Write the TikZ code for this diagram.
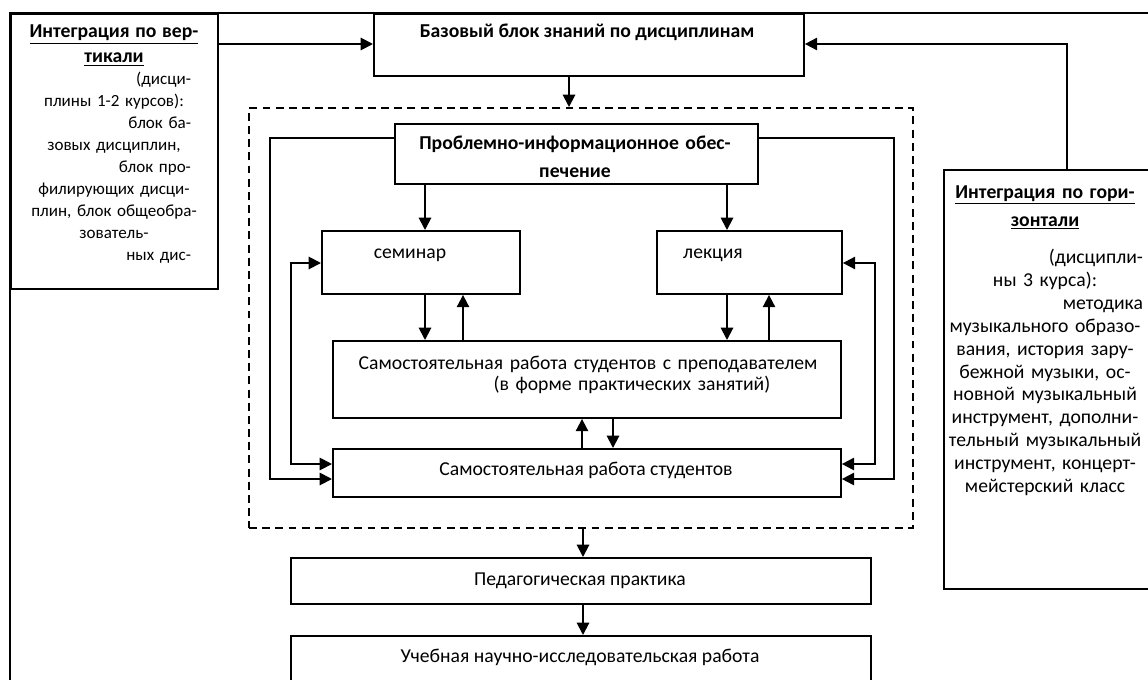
\documentclass[tikz,border=0pt]{standalone}
\usepackage{fontspec}
\setmainfont{Carlito}
\usetikzlibrary{arrows.meta, calc}
\newcommand{\rline}[2][0pt]{\hspace*{\fill}#2\hspace*{#1}\mbox{}}

\begin{document}
\begin{tikzpicture}[x=0.02cm, y=-0.02cm, >={Triangle[length=7pt, width=7pt]},
  every node/.style={font=\fontsize{11.2}{12.8}\selectfont},
  box/.style={draw, line width=1.1pt, inner sep=0pt, anchor=north west},
  lbl/.style={inner sep=0pt, align=center, anchor=base},
  conn/.style={line width=1.1pt}]
  \useasboundingbox (0,0) rectangle (1148,679);
  \clip (0,0) rectangle (1148,679);
  \node[box, minimum width=4.14cm, minimum height=5.5cm] (vert) at (10,13) {};
  \node[box, minimum width=8.6cm, minimum height=1.24cm] (base) at (373,13) {};
  \node[box, minimum width=4.6cm, minimum height=8.38cm] (horiz) at (943,169) {};
  \node[box, dash pattern=on 4.5pt off 3pt, minimum width=13.28cm, minimum height=8.4cm] (core) at (248,107) {};
  \node[box, minimum width=7.26cm, minimum height=1.2cm] (probl) at (394,123) {};
  \node[box, minimum width=3.96cm, minimum height=1.26cm] (semin) at (321,230) {};
  \node[box, minimum width=3.7cm, minimum height=1.26cm] (lect) at (656,230) {};
  \node[box, minimum width=10.16cm, minimum height=1.54cm] (teach) at (332,340) {};
  \node[box, minimum width=10.16cm, minimum height=0.96cm] (stud) at (332,448) {};
  \node[box, minimum width=11.6cm, minimum height=0.92cm] (pract) at (290,557) {};
  \node[box, minimum width=11.6cm, minimum height=1.5cm] (resea) at (290,635) {};
  \draw[conn] ($(vert.north west)+(0,680)$) -- (vert.north west) -- ($(vert.north west)+(1150,0)$);

  \node[lbl, text width=3.6cm, font=\fontsize{9.7}{12.5}\selectfont] (vertt) at (114,38) {{\fontsize{11.2}{12.5}\selectfont\bfseries\underline{Интеграция по вер-}}\\[1.7pt]
    {\fontsize{11.2}{12.5}\selectfont\bfseries\underline{тикали}}\\
    \rline[7.4pt]{(дисци-}\\
    плины 1-2 курсов):\\
    \rline[7.4pt]{блок ба-}\\
    зовых дисциплин,\\
    \rline[7.4pt]{блок про-}\\
    филирующих дисци-\\
    плин, блок общеобра-\\
    зователь-\\
    \rline[7.4pt]{ных дис-}};
  \node[lbl, text width=4.2cm, font=\fontsize{11.2}{13}\selectfont] (horizt) at (1045,198) {\textbf{\underline{Интеграция по гори-}}\\[3pt]
    \textbf{\underline{зонтали}}\\[8.5pt]
    \rline[4pt]{(дисципли-}\\
    ны 3 курса):\hspace*{29pt}\\
    \rline[4pt]{методика}\\
    музыкального образо-\\
    вания, история зару-\\
    бежной музыки, ос-\\
    новной музыкальный\\
    инструмент, дополни-\\
    тельный музыкальный\\
    инструмент, концерт-\\
    мейстерский класс};
  \node[lbl] (baset) at (587,38) {\textbf{Базовый блок знаний по дисциплинам}};
  \node[lbl, text width=7cm] (problt) at (575,149) {\textbf{Проблемно-информационное обес-}\\[3.4pt]\textbf{печение}};
  \node[lbl] (semint) at (410,258) {семинар};
  \node[lbl] (lectt) at (713,258) {лекция};
  \node[lbl, text width=10cm] (teacht) at (588,369) {Самостоятельная работа студентов с преподавателем\\[-0.8pt]\hspace*{50pt}(в форме практических занятий)};
  \node[lbl] (studt) at (586,475) {Самостоятельная работа студентов};
  \node[lbl] (practt) at (580,585) {Педагогическая практика};
  \node[lbl] (reseat) at (580,662) {Учебная научно-исследовательская работа};

  \draw[conn, ->] ($(vert.north east)+(0,31)$) -- ($(base.north west)+(0,31)$);
  \draw[conn, ->] ($(horiz.north west)+(124,0)$) |- ($(base.north east)+(0,31)$);
  \draw[conn, ->] ($(base.south west)+(196,0)$) -- ($(core.north west)+(321,0)$);
  \draw[conn, ->] ($(probl.north west)+(0,15)$) -| ($(stud.north west)+(-62,31)$) -- ($(stud.north west)+(0,31)$);
  \draw[conn, ->] ($(probl.north east)+(0,15)$) -| ($(stud.north east)+(52,31)$) -- ($(stud.north east)+(0,31)$);
  \draw[conn, ->] ($(probl.south west)+(31,0)$) -- ($(semin.north west)+(104,0)$);
  \draw[conn, ->] ($(probl.south west)+(333,0)$) -- ($(lect.north west)+(71,0)$);
  \draw[conn, <->] ($(semin.north west)+(0,33)$) -| ($(stud.north west)+(-41,16)$) -- ($(stud.north west)+(0,16)$);
  \draw[conn, <->] ($(lect.north east)+(0,33)$) -| ($(stud.north east)+(33,16)$) -- ($(stud.north east)+(0,16)$);
  \draw[conn, ->] ($(semin.south west)+(104,0)$) -- ($(teach.north west)+(93,0)$);
  \draw[conn, ->] ($(teach.north west)+(131,0)$) -- ($(semin.south west)+(142,0)$);
  \draw[conn, ->] ($(lect.south west)+(71,0)$) -- ($(teach.north west)+(395,0)$);
  \draw[conn, ->] ($(teach.north west)+(437,0)$) -- ($(lect.south west)+(113,0)$);
  \draw[conn, ->] ($(stud.north west)+(250,0)$) -- ($(teach.south west)+(250,0)$);
  \draw[conn, ->] ($(teach.south west)+(281,0)$) -- ($(stud.north west)+(281,0)$);
  \draw[conn, ->] ($(core.south west)+(335,0)$) -- ($(pract.north west)+(293,0)$);
  \draw[conn, ->] ($(pract.south west)+(293,0)$) -- ($(resea.north west)+(293,0)$);
\end{tikzpicture}
\end{document}
